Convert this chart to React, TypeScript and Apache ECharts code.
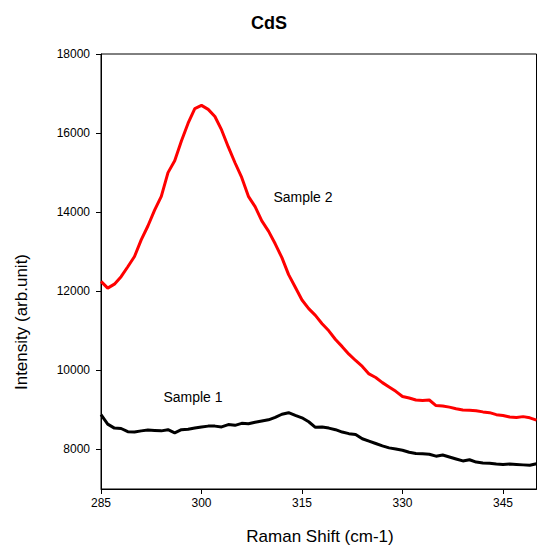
import React, { useEffect, useRef } from "react";
import * as echarts from "echarts";

const ramanShift = [
  285, 286, 287, 288, 289, 290, 291, 292, 293, 294, 295, 296, 297, 298, 299,
  300, 301, 302, 303, 304, 305, 306, 307, 308, 309, 310, 311, 312, 313, 314,
  315, 316, 317, 318, 319, 320, 321, 322, 323, 324, 325, 326, 327, 328, 329,
  330, 331, 332, 333, 334, 335, 336, 337, 338, 339, 340, 341, 342, 343, 344,
  345, 346, 347, 348, 349, 350,
];

const sample2 = [
  12250, 12080, 12180, 12370, 12620, 12880, 13300, 13650, 14050, 14400, 15000,
  15300, 15800, 16250, 16620, 16700, 16600, 16420, 16080, 15650, 15250, 14880,
  14400, 14140, 13780, 13520, 13200, 12850, 12420, 12100, 11780, 11560, 11390,
  11180, 11000, 10780, 10600, 10410, 10250, 10100, 9910, 9820, 9690, 9580,
  9470, 9340, 9300, 9250, 9240, 9250, 9110, 9100, 9070, 9030, 9000, 8990, 8980,
  8950, 8930, 8880, 8860, 8820, 8810, 8830, 8800, 8740,
];

const sample1 = [
  8880, 8640, 8540, 8530, 8450, 8440, 8470, 8490, 8480, 8470, 8500, 8420, 8500,
  8510, 8540, 8570, 8590, 8590, 8570, 8630, 8610, 8660, 8650, 8690, 8720, 8750,
  8810, 8890, 8930, 8860, 8800, 8700, 8560, 8570, 8540, 8500, 8440, 8400, 8380,
  8270, 8210, 8150, 8090, 8040, 8010, 7980, 7930, 7900, 7890, 7880, 7830, 7860,
  7810, 7760, 7710, 7740, 7680, 7660, 7650, 7630, 7620, 7630, 7620, 7610, 7600,
  7640,
];

const xTicks = [285, 300, 315, 330, 345];
const yTicks = [8000, 10000, 12000, 14000, 16000, 18000];

const FONT = "'Liberation Sans', Arial, sans-serif";

export default function App() {
  const ref = useRef<HTMLDivElement>(null);
  useEffect(() => {
    document.body.style.margin = "0";
    const chart = echarts.init(ref.current!, null, { renderer: "svg" });
    const pair = (xs: number[], ys: number[]) => xs.map((x, i) => [x, ys[i]]);
    chart.setOption({
      animation: false,
      backgroundColor: "#fff",
      grid: {
        left: 101,
        top: 54,
        width: 435.5,
        height: 435,
        show: true,
        borderColor: "#000",
        borderWidth: 1,
      },
      xAxis: {
        type: "value",
        min: 285,
        max: 350,
        interval: 15,
        axisLine: { show: true, lineStyle: { color: "#000", width: 1 } },
        axisTick: {
          show: true,
          inside: false,
          length: 5,
          lineStyle: { color: "#000" },
          customValues: xTicks,
        },
        axisLabel: {
          color: "#000",
          fontSize: 12,
          fontFamily: FONT,
          margin: 8,
          customValues: xTicks,
          formatter: (v: number) => String(v),
        },
        splitLine: { show: false },
      },
      yAxis: {
        type: "value",
        min: 7000,
        max: 18000,
        interval: 1000,
        axisLine: { show: true, lineStyle: { color: "#000", width: 1 } },
        axisTick: {
          show: true,
          inside: false,
          length: 5,
          lineStyle: { color: "#000" },
          customValues: yTicks,
        },
        axisLabel: {
          color: "#000",
          fontSize: 12,
          fontFamily: FONT,
          margin: 11,
          customValues: yTicks,
          formatter: (v: number) => String(v),
        },
        splitLine: { show: false },
      },
      series: [
        {
          name: "Sample 2",
          type: "line",
          data: pair(ramanShift, sample2),
          showSymbol: false,
          lineStyle: { color: "#ff0000", width: 3 },
          itemStyle: { color: "#ff0000" },
          z: 3,
        },
        {
          name: "Sample 1",
          type: "line",
          data: pair(ramanShift, sample1),
          showSymbol: false,
          lineStyle: { color: "#000000", width: 3 },
          itemStyle: { color: "#000000" },
          z: 3,
        },
      ],
      graphic: [
        {
          type: "text",
          x: 269,
          y: 23,
          style: {
            text: "CdS",
            fontSize: 18,
            fontWeight: "bold",
            fontFamily: FONT,
            fill: "#000",
            align: "center",
            verticalAlign: "middle",
          },
        },
        {
          type: "text",
          x: 320,
          y: 536,
          style: {
            text: "Raman Shift (cm-1)",
            fontSize: 17,
            fontFamily: FONT,
            fill: "#000",
            align: "center",
            verticalAlign: "middle",
          },
        },
        {
          type: "text",
          x: 21,
          y: 322,
          rotation: Math.PI / 2,
          style: {
            text: "Intensity (arb.unit)",
            fontSize: 17,
            fontFamily: FONT,
            fill: "#000",
            align: "center",
            verticalAlign: "middle",
          },
        },
        {
          type: "text",
          x: 303,
          y: 197,
          style: {
            text: "Sample 2",
            fontSize: 14,
            fontFamily: FONT,
            fill: "#000",
            align: "center",
            verticalAlign: "middle",
          },
        },
        {
          type: "text",
          x: 193,
          y: 397,
          style: {
            text: "Sample 1",
            fontSize: 14,
            fontFamily: FONT,
            fill: "#000",
            align: "center",
            verticalAlign: "middle",
          },
        },
      ],
    });
    return () => chart.dispose();
  }, []);
  return <div ref={ref} style={{ width: 540, height: 551 }} />;
}
